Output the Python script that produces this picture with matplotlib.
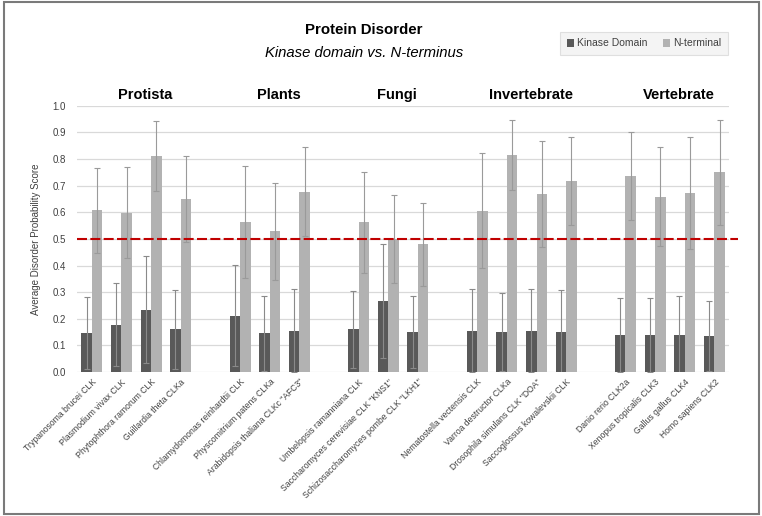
import numpy as np
import matplotlib
matplotlib.use("Agg")
import matplotlib.pyplot as plt
from matplotlib.patches import Rectangle

plt.rcParams['font.family'] = ['Liberation Sans', 'DejaVu Sans']

# --- data ---
groups = ['Protista', 'Plants', 'Fungi', 'Invertebrate', 'Vertebrate']
group_species = [
    ['Trypanosoma brucei CLK', 'Plasmodium vivax CLK', 'Phytophthora ramorum CLK', 'Guillardia theta CLKa'],
    ['Chlamydomonas reinhardtii CLK', 'Physcomitrium patens CLKa', 'Arabidopsis thaliana CLKc "AFC3"'],
    ['Umbelopsis ramanniana CLK', 'Saccharomyces cerevisiae CLK "KNS1"', 'Schizosaccharomyces pombe CLK "LKH1"'],
    ['Nematostella vectensis CLK', 'Varroa destructor CLKa', 'Drosophila simulans CLK "DOA"', 'Saccoglossus kowalevskii CLK'],
    ['Danio rerio CLK2a', 'Xenopus tropicalis CLK3', 'Gallus gallus CLK4', 'Homo sapiens CLK2'],
]
kinase = [0.146, 0.178, 0.234, 0.160,
          0.212, 0.146, 0.155,
          0.160, 0.266, 0.151,
          0.155, 0.151, 0.155, 0.149,
          0.140, 0.140, 0.140, 0.136]
kinase_err = [0.135, 0.155, 0.200, 0.148,
              0.190, 0.141, 0.156,
              0.144, 0.214, 0.134,
              0.156, 0.146, 0.156, 0.159,
              0.139, 0.139, 0.146, 0.131]
nterm = [0.608, 0.599, 0.811, 0.650,
         0.565, 0.528, 0.678,
         0.563, 0.500, 0.479,
         0.606, 0.815, 0.668, 0.718,
         0.736, 0.659, 0.673, 0.751]
nterm_err = [0.160, 0.170, 0.130, 0.162,
             0.210, 0.183, 0.166,
             0.190, 0.165, 0.157,
             0.215, 0.130, 0.200, 0.166,
             0.166, 0.186, 0.210, 0.197]
threshold = 0.5

# positions: one empty slot between groups
pos = []
labels = []
start = 0
group_mid = []
for sp in group_species:
    p = list(range(start, start + len(sp)))
    pos += p
    labels += sp
    group_mid.append((p[0] + p[-1]) / 2)
    start += len(sp) + 1
pos = np.array(pos, dtype=float)

fig = plt.figure(figsize=(7.62, 5.16), dpi=100)
ax = fig.add_axes([0.101, 0.279, 0.856, 0.516])

w = 0.355
ax.bar(pos - w / 2, kinase, w, color='#595959', label='Kinase Domain', zorder=2)
ax.bar(pos + w / 2, nterm, w, color='#b2b2b2', label='N-terminal', zorder=2)
ax.errorbar(pos - w / 2, kinase, yerr=kinase_err, fmt='none', ecolor='#8a8a8a',
            elinewidth=0.8, capsize=2, capthick=0.8, zorder=3)
ax.errorbar(pos + w / 2, nterm, yerr=nterm_err, fmt='none', ecolor='#9a9a9a',
            elinewidth=0.8, capsize=2, capthick=0.8, zorder=3)

ax.axhline(threshold, xmin=0, xmax=1.013, color='#c00000', lw=1.5,
           dashes=(4.8, 1.6), zorder=4, clip_on=False)

ax.set_xlim(-0.5, pos[-1] + 0.5)
ax.set_ylim(0, 1.0)
ax.set_yticks(np.arange(0, 1.01, 0.1))
ax.set_yticklabels([f'{v:.1f}' for v in np.arange(0, 1.01, 0.1)], fontsize=7, color='#404040')
ax.set_xticks(pos)
ax.set_xticklabels(labels, rotation=45, ha='right', rotation_mode='anchor',
                   fontsize=6.2, color='#404040')
ax.tick_params(axis='y', length=0, pad=8)
ax.tick_params(axis='x', length=0, pad=4)
ax.grid(axis='y', color='#d9d9d9', lw=0.9, zorder=0)
ax.set_axisbelow(True)
for s in ax.spines.values():
    s.set_visible(False)
ax.set_ylabel('Average Disorder Probability Score', fontsize=7, color='#404040', labelpad=8)

# group headings
for g, m in zip(groups, group_mid):
    ax.text(m + 0.3, 1.04, g, ha='center', va='center', fontsize=10.5,
            fontweight='bold', transform=ax.get_xaxis_transform())

fig.text(364 / 762, 1 - 30 / 516, 'Protein Disorder', ha='center', va='center',
         fontsize=10.8, fontweight='bold')
fig.text(364 / 762, 1 - 53 / 516, 'Kinase domain vs. N-terminus', ha='center', va='center',
         fontsize=10.7, style='italic')

leg = fig.legend(loc='center', bbox_to_anchor=(644 / 762, 1 - 43.5 / 516), ncol=2,
                 fontsize=7.5, frameon=True, fancybox=False, handlelength=0.7,
                 handleheight=0.7, handletextpad=0.3, columnspacing=1.5,
                 borderpad=0.6)
leg.get_frame().set_facecolor('#f2f2f2')
leg.get_frame().set_edgecolor('#d9d9d9')
leg.get_frame().set_linewidth(0.8)
for t in leg.get_texts():
    t.set_color('#404040')

fig.patches.append(Rectangle((4 / 762, 2 / 516), 755 / 762, 512 / 516,
                             transform=fig.transFigure, fill=False,
                             edgecolor='#7a7a7a', lw=1.5))

fig.savefig('out.png', dpi=100)
